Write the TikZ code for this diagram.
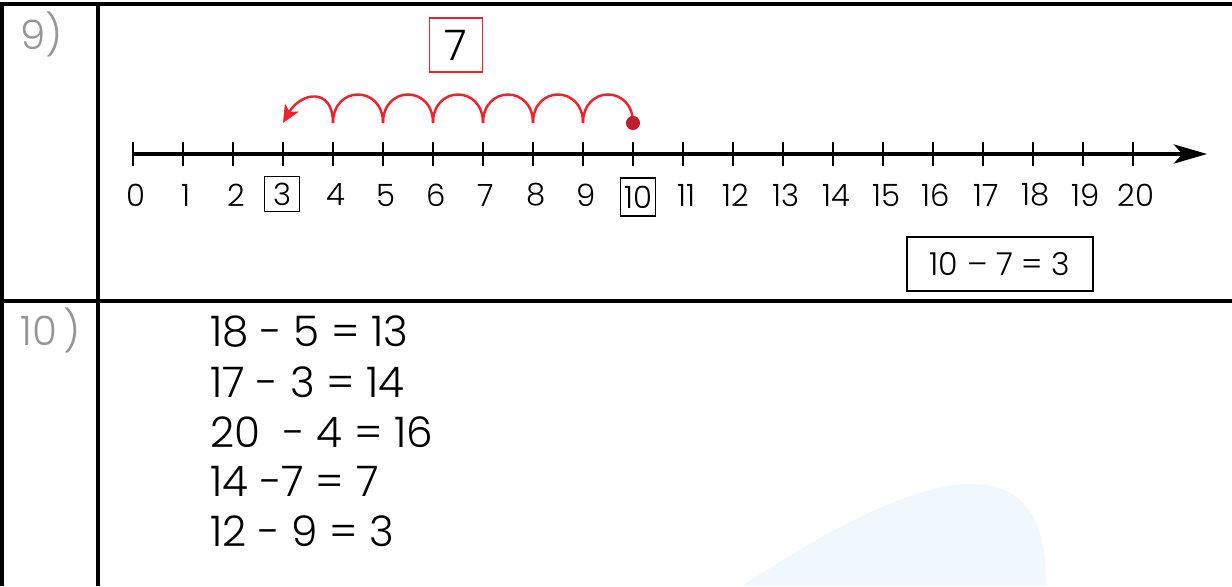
\documentclass[tikz,border=0pt]{standalone}
\usepackage{fontspec}
\setmainfont{Poppins Light}
\usepackage{tikz}
\usetikzlibrary{positioning,arrows.meta}
\usepackage{xcolor}
\definecolor{jumpred}{RGB}{237,34,44}
\definecolor{dotred}{RGB}{190,30,45}
\definecolor{labelgray}{RGB}{150,150,150}
\definecolor{wmblue}{RGB}{240,247,253}
\tikzset{
  rule/.style={line width=2.8pt},
  axisline/.style={line width=1.8pt},
  tickmark/.style={line width=1.4pt},
  numlabel/.style={font=\fontsize{17.5}{20}\selectfont,inner sep=1pt},
  boxlabel/.style={numlabel,draw,line width=1pt,inner sep=1.5pt,minimum height=20pt,minimum width=20pt},
  jump/.style={jumpred,line width=1.4pt},
  eqline/.style={font=\fontsize{24}{28}\selectfont,anchor=west,inner sep=0pt},
  itemlabel/.style={font=\fontsize{23}{27}\selectfont,text=labelgray,anchor=west,inner sep=0pt}
}

\begin{document}
\begin{tikzpicture}[x=0.02cm,y=0.02cm]
\useasboundingbox (0,0) rectangle (1232,-586);
% watermark
\fill[wmblue] (742,-586) .. controls (830,-528) and (915,-484) .. (970,-484) .. controls (1030,-484) and (1046,-525) .. (1046,-586) -- cycle;
% table rules
\draw[rule] (2,-586) -- (2,-4) -- (1232,-4);
\draw[rule] (98,-4) -- (98,-586);
\draw[rule] (0,-301) -- (1232,-301);
\node[itemlabel] (lab9) at (20,-34) {9)};
\node[itemlabel] (lab10) at (20,-330) {10\,)};
% number line
\foreach \n in {0,...,20} {
  \coordinate (t\n) at ({133+50*\n},-154);
  \draw[tickmark] (t\n) ++(0,12) -- ++(0,-24);
}
\coordinate (axisend) at (1207,-154);
\draw[axisline,-{Stealth[length=19pt,width=11pt,inset=5pt]}] (t0) -- (axisend);
\foreach \n in {0,1,2,4,5,6,7,8,9,11,12,13,14,15,16,17,18,19,20}
  \node[numlabel] (n\n) at ({136+50*\n},-195) {\n};
\node[boxlabel] (n3) at (282,-194) {3};
\node[boxlabel,minimum height=22pt] (n10) at (638,-197) {10};
% jumps back from 10
\foreach \n in {3,...,10}
  \coordinate (j\n) at ({133+50*\n},-123);
\node[draw=jumpred,line width=0.9pt,minimum width=30pt,minimum height=31pt,font=\fontsize{24}{28}\selectfont] (count) at (456,-45) {7};
\foreach \n [evaluate=\n as \m using int(\n-1)] in {10,...,5}
  \draw[jump] (j\n) to[out=90,in=90,distance=0.76cm] (j\m);
\draw[jump,-{Stealth[length=10pt,width=9pt,inset=2.5pt]}] (j4) to[out=90,in=60,distance=0.72cm] (j3);
\node[circle,fill=dotred,inner sep=0pt,minimum size=8pt] (start) at (j10) {};
\node[draw,line width=1pt,minimum width=106pt,minimum height=31pt,font=\fontsize{18}{22}\selectfont] (result) at (1000,-264) {10 – 7 = 3};
% answers
\node[eqline] (eq1) at (210,-332) {18 - 5 = 13};
\node[eqline] (eq2) at (210,-382) {17 - 3 = 14};
\node[eqline] (eq3) at (210,-432) {20 \ - 4 = 16};
\node[eqline] (eq4) at (210,-481) {14 -7 = 7};
\node[eqline] (eq5) at (210,-531) {12 - 9 = 3};
\end{tikzpicture}
\end{document}
